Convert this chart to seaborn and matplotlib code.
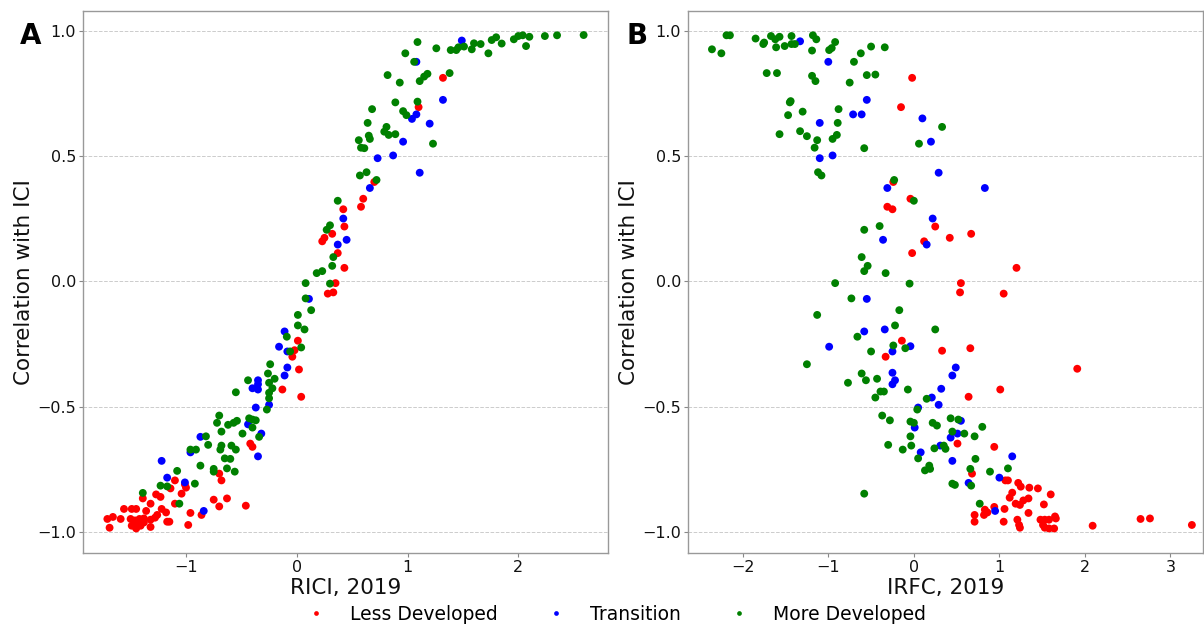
import matplotlib
matplotlib.use("Agg")
import matplotlib.pyplot as plt
import seaborn as sns
import pandas as pd

# ---------------- Panel A: RICI, 2019 ----------------
a_less = [(1.32,0.813),(1.10,0.696),(0.70,0.397),(0.60,0.33),(0.58,0.298),(0.42,0.288),(0.43,0.219),(0.32,0.19),(0.25,0.174),(0.23,0.16),(0.37,0.113),(0.43,0.054),(0.35,-0.007),(0.33,-0.044),(0.28,-0.049),
(0.01,-0.237),(-0.02,-0.275),(-0.04,-0.301),(0.02,-0.352),(-0.13,-0.432),(0.04,-0.461),(-0.42,-0.648),(-0.40,-0.661),(-0.70,-0.768),(-0.68,-0.795),(-1.10,-0.795),(-1.01,-0.811),(-1.14,-0.827),(-1.0,-0.824),(-1.04,-0.848),(-1.27,-0.851),(-1.23,-0.861),(-1.39,-0.867),(-0.75,-0.872),(-0.63,-0.867),(-1.10,-0.888),(-1.32,-0.888),(-0.46,-0.896),(-0.70,-0.899),(-0.86,-0.933),(-0.96,-0.925),(-1.56,-0.909),(-1.49,-0.909),(-1.45,-0.909),(-1.36,-0.917),(-1.22,-0.909),(-1.18,-0.923),(-1.26,-0.933),(-1.71,-0.949),(-1.66,-0.941),(-1.59,-0.949),(-1.50,-0.949),(-1.46,-0.955),(-1.42,-0.949),(-1.38,-0.947),(-1.32,-0.952),(-1.28,-0.944),(-1.17,-0.96),(-1.15,-0.96),(-1.69,-0.984),(-1.49,-0.976),(-1.45,-0.987),(-1.41,-0.976),(-1.32,-0.981),(-0.98,-0.973),(-1.45,-0.968),(-1.38,-0.963)]

a_trans = [(1.49,0.962),(1.08,0.877),(1.32,0.725),(1.08,0.667),(1.04,0.649),(1.20,0.63),(0.96,0.558),(0.73,0.492),(0.87,0.503),(1.11,0.434),(0.66,0.373),(0.42,0.251),(0.45,0.166),(0.37,0.147),(0.11,-0.07),
(-0.11,-0.2),(-0.16,-0.261),(-0.085,-0.28),(-0.085,-0.344),(-0.11,-0.376),(-0.35,-0.395),(-0.35,-0.411),(-0.40,-0.427),(-0.35,-0.432),(-0.25,-0.493),(-0.37,-0.504),(-0.44,-0.571),(-0.32,-0.608),(-0.87,-0.621),(-0.96,-0.683),(-0.35,-0.699),(-1.22,-0.717),(-1.17,-0.784),(-1.01,-0.803),(-0.84,-0.917)]

a_more = [(2.59,0.984),(2.35,0.983),(2.24,0.98),(2.10,0.977),(2.04,0.983),(2.0,0.98),(1.96,0.967),(2.07,0.94),(1.85,0.95),(1.80,0.975),(1.76,0.964),(1.73,0.911),(1.66,0.948),(1.60,0.951),(1.58,0.927),(1.51,0.938),(1.46,0.935),(1.44,0.924),(1.39,0.924),(1.26,0.931),(1.38,0.832),(1.09,0.956),(0.98,0.911),(1.06,0.877),(1.18,0.829),(1.15,0.818),(1.11,0.80),(0.82,0.824),(0.93,0.794),(0.89,0.715),(1.09,0.718),(0.96,0.68),(0.99,0.664),(0.68,0.688),(0.64,0.633),(0.81,0.617),(0.79,0.598),(0.83,0.585),(0.89,0.588),(0.65,0.582),(0.66,0.569),(0.56,0.564),(0.58,0.534),(0.61,0.532),(1.23,0.55),(0.57,0.423),(0.63,0.436),(0.72,0.405),(0.37,0.322),(0.30,0.224),(0.27,0.206),(0.33,0.097),(0.32,0.062),(0.23,0.041),(0.18,0.033),(0.08,-0.007),(0.30,-0.009),(0.08,-0.068),(0.13,-0.115),(0.01,-0.134),
(0.01,-0.176),(0.07,-0.192),(-0.09,-0.221),(-0.06,-0.28),(0.04,-0.264),(-0.24,-0.331),(-0.26,-0.368),(-0.20,-0.389),(-0.44,-0.395),(-0.25,-0.405),(-0.22,-0.427),(-0.55,-0.443),(-0.25,-0.445),(-0.25,-0.467),(-0.27,-0.512),(-0.70,-0.536),(-0.43,-0.547),(-0.40,-0.552),(-0.37,-0.555),(-0.54,-0.557),(-0.57,-0.565),(-0.62,-0.573),(-0.72,-0.565),(-0.40,-0.584),(-0.68,-0.60),(-0.49,-0.608),(-0.34,-0.621),(-0.82,-0.619),(-0.80,-0.653),(-0.68,-0.656),(-0.59,-0.656),(-0.55,-0.672),(-0.96,-0.672),(-0.91,-0.672),(-0.69,-0.672),(-0.65,-0.707),(-0.60,-0.709),(-0.87,-0.736),(-0.63,-0.747),(-0.75,-0.749),(-0.75,-0.76),(-0.56,-0.76),(-1.08,-0.757),(-0.92,-0.808),(-1.23,-0.816),(-1.17,-0.819),(-1.39,-0.845),(-1.06,-0.888)]

# ---------------- Panel B: IRFC, 2019 ----------------
b_less = [(-0.02,0.813),(-0.15,0.696),(-0.24,0.397),(-0.04,0.33),(-0.31,0.298),(-0.25,0.288),(0.25,0.219),(0.42,0.174),(0.67,0.19),(0.12,0.16),(-0.02,0.113),(1.20,0.054),(0.55,-0.007),(0.54,-0.044),(1.05,-0.049),
(-0.14,-0.237),(0.33,-0.277),(0.66,-0.267),(-0.33,-0.301),(1.91,-0.349),(1.01,-0.432),(0.64,-0.461),(0.51,-0.648),(0.94,-0.661),(0.68,-0.768),(1.07,-0.795),(1.10,-0.795),(1.22,-0.805),(1.25,-0.82),(1.35,-0.824),(1.45,-0.827),(1.60,-0.851),(1.15,-0.844),(1.12,-0.864),(1.34,-0.867),(1.28,-0.875),(1.19,-0.888),(1.24,-0.893),(1.52,-0.891),(1.06,-0.909),(1.34,-0.925),(0.94,-0.901),(0.83,-0.912),(0.86,-0.923),(0.82,-0.933),(0.71,-0.933),(0.71,-0.96),(1.05,-0.96),(1.21,-0.952),(1.23,-0.973),(1.24,-0.984),(1.48,-0.952),(1.53,-0.952),(1.58,-0.952),(1.51,-0.973),(1.53,-0.984),(1.58,-0.987),(1.64,-0.987),(1.65,-0.939),(1.66,-0.947),(2.09,-0.976),(2.65,-0.949),(2.76,-0.947),(3.25,-0.973)]

b_trans = [(-1.33,0.959),(-1.0,0.877),(-0.55,0.725),(-0.71,0.667),(-0.61,0.667),(-1.10,0.633),(0.10,0.651),(0.20,0.558),(-1.10,0.492),(-0.95,0.503),(0.29,0.434),(0.83,0.373),(-0.31,0.373),(0.22,0.251),(-0.36,0.166),(0.15,0.147),(-0.55,-0.07),
(-0.58,-0.2),(-0.34,-0.192),(-0.99,-0.261),(-0.25,-0.28),(-0.04,-0.259),(0.49,-0.344),(0.45,-0.376),(-0.25,-0.365),(-0.22,-0.395),(-0.25,-0.411),(0.32,-0.429),(0.21,-0.464),(0.29,-0.493),(0.05,-0.504),(0.01,-0.584),(0.55,-0.557),(0.51,-0.608),(0.43,-0.624),(0.31,-0.656),(0.08,-0.683),(1.15,-0.699),(0.45,-0.717),(1.0,-0.784),(0.64,-0.805),(0.95,-0.917)]

b_more = [(-2.36,0.927),(-2.25,0.911),(-2.19,0.983),(-2.15,0.983),(-1.85,0.97),(-1.76,0.948),(-1.75,0.954),(-1.67,0.98),(-1.62,0.967),(-1.57,0.977),(-1.61,0.935),(-1.51,0.94),(-1.43,0.98),(-1.43,0.948),(-1.39,0.948),(-1.18,0.983),(-1.14,0.967),(-1.19,0.922),(-0.99,0.924),(-0.96,0.932),(-0.92,0.956),(-0.62,0.911),(-0.50,0.938),(-0.34,0.935),(-0.70,0.877),(-1.72,0.832),(-1.60,0.832),(-1.19,0.821),(-1.15,0.80),(-0.75,0.794),(-0.55,0.824),(-0.45,0.826),(-1.45,0.715),(-1.44,0.72),(-1.30,0.678),(-1.47,0.664),(-0.88,0.688),(-0.89,0.633),(0.33,0.617),(-1.57,0.588),(-1.33,0.60),(-1.25,0.58),(-1.13,0.564),(-1.16,0.534),(-0.95,0.569),(-0.90,0.585),(-0.58,0.532),(0.06,0.55),(-1.12,0.436),(-1.08,0.423),(-0.23,0.405),(0.0,0.322),(-0.40,0.221),(-0.58,0.206),(-0.61,0.097),(-0.54,0.062),(-0.58,0.041),(-0.33,0.033),(-0.92,-0.007),(-0.05,-0.009),(-0.73,-0.068),(-0.17,-0.115),(-1.13,-0.134),
(-0.22,-0.176),(0.25,-0.192),(-0.66,-0.221),(-0.24,-0.256),(-0.10,-0.267),(-0.50,-0.28),(-1.25,-0.331),(-0.61,-0.368),(-0.43,-0.389),(-0.77,-0.405),(-0.56,-0.395),(-0.07,-0.432),(-0.39,-0.44),(-0.35,-0.44),(-0.45,-0.464),(0.15,-0.469),(0.04,-0.512),(-0.37,-0.536),(-0.28,-0.555),(-0.04,-0.56),(0.0,-0.565),(0.43,-0.547),(0.52,-0.552),(0.22,-0.565),(0.27,-0.576),(0.80,-0.581),(0.45,-0.60),(0.59,-0.608),(0.71,-0.619),(-0.04,-0.619),(-0.30,-0.653),(-0.03,-0.656),(0.35,-0.656),(0.37,-0.669),(0.24,-0.667),(-0.13,-0.672),(0.05,-0.707),(0.72,-0.709),(0.18,-0.736),(0.19,-0.749),(0.13,-0.755),(0.66,-0.749),(0.89,-0.76),(1.10,-0.747),(0.45,-0.808),(0.48,-0.813),(0.67,-0.816),(0.77,-0.888),(-0.58,-0.848)]

categories = ["Less Developed", "Transition", "More Developed"]
colors = {"Less Developed": "red", "Transition": "blue", "More Developed": "green"}


def make_df(groups, xname):
    rows = []
    for cat, pts in zip(categories, groups):
        for x, y in pts:
            rows.append({xname: x, "Correlation with ICI": y, "Group": cat})
    return pd.DataFrame(rows)


df_a = make_df([a_less, a_trans, a_more], "RICI, 2019")
df_b = make_df([b_less, b_trans, b_more], "IRFC, 2019")

sns.set_style("white")
plt.rcParams["font.family"] = ["DejaVu Sans"]
plt.rcParams["text.color"] = "black"
plt.rcParams["axes.labelcolor"] = "black"
plt.rcParams["xtick.color"] = "black"
plt.rcParams["ytick.color"] = "black"

fig = plt.figure(figsize=(12.04, 6.26), dpi=100)
ax1 = fig.add_axes([83 / 1204, 73 / 626, 525 / 1204, 542 / 626])
ax2 = fig.add_axes([688 / 1204, 73 / 626, 515 / 1204, 542 / 626])

for ax, df, xname, xlim, xticks, letter in [
    (ax1, df_a, "RICI, 2019", (-1.93, 2.81), [-1, 0, 1, 2], "A"),
    (ax2, df_b, "IRFC, 2019", (-2.64, 3.38), [-2, -1, 0, 1, 2, 3], "B"),
]:
    sns.scatterplot(data=df, x=xname, y="Correlation with ICI", hue="Group",
                    hue_order=categories, palette=colors, s=32, linewidth=0,
                    edgecolor="none", ax=ax, legend=(ax is ax1))
    ax.set_xlim(*xlim)
    ax.set_ylim(-1.085, 1.08)
    ax.set_xticks(xticks)
    ax.set_yticks([-1.0, -0.5, 0.0, 0.5, 1.0])
    ax.grid(axis="y", linestyle="--", color="#cccccc", linewidth=0.7)
    ax.grid(axis="x", visible=False)
    ax.set_axisbelow(True)
    ax.tick_params(axis="both", labelsize=11.5, length=3, width=0.8,
                   color="#888888", labelcolor="#111111", pad=2,
                   left=True, bottom=True)
    ax.set_xlabel(xname, fontsize=15.5, labelpad=2, color="#111111")
    ax.set_ylabel("Correlation with ICI", fontsize=15.5, labelpad=2,
                  color="#111111")
    for sp in ax.spines.values():
        sp.set_color("#999999")
        sp.set_linewidth(1.0)
    ax.text(-0.12, 0.954, letter, transform=ax.transAxes, fontsize=20,
            fontweight="bold", ha="left", va="center", color="black")

handles, labels = ax1.get_legend_handles_labels()
ax1.get_legend().remove()
fig.legend(handles, labels, loc="center", bbox_to_anchor=(0.508, 0.019),
           ncol=3, frameon=False, fontsize=13.5, markerscale=0.6,
           columnspacing=2.1, handletextpad=0.8)

fig.savefig("out.png", dpi=100)
